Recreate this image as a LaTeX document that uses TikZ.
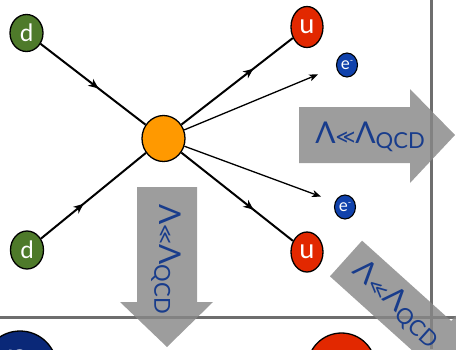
\documentclass[tikz,border=0pt]{standalone}
\usepackage{fontspec}
\setmainfont{Lato}
\newfontfamily\symfnt{DejaVu Sans}
\usetikzlibrary{arrows.meta,decorations.markings,shapes.geometric}

\definecolor{dgreen}{RGB}{78,122,42}
\definecolor{ured}{RGB}{226,40,0}
\definecolor{eblue}{RGB}{16,66,172}
\definecolor{vorange}{RGB}{255,153,0}
\definecolor{nnavy}{RGB}{10,40,120}
\definecolor{lamblue}{RGB}{24,60,140}
\definecolor{sepgray}{RGB}{110,110,110}
\definecolor{arrowgray}{RGB}{135,135,135}

\newcommand{\lamtext}{%
  {\fontsize{30}{30}\selectfont Λ}%
  {\symfnt\fontsize{19}{19}\selectfont ≪}%
  {\fontsize{30}{30}\selectfont Λ}%
  \raisebox{-5pt}{\fontsize{22}{22}\selectfont QCD}}

\begin{document}
\begin{tikzpicture}[x=1pt,y=-1pt,
  particle/.style={ellipse,draw=black,line width=1.3pt,inner sep=0pt,text=white},
  quarkline/.style={line width=2pt,black},
  leptonline/.style={line width=1.3pt,black,-{Stealth[length=9pt,width=7pt,inset=2.5pt]},shorten >=1pt},
  midarrow/.style={postaction={decorate},decoration={markings,
      mark=at position #1 with {\arrow{Stealth[length=10pt,width=8.5pt,inset=3pt]}}}},
  separator/.style={line width=3pt,sepgray},
  bigarrow/.style={fill=arrowgray,fill opacity=0.82,draw=none},
  lamlabel/.style={text=lamblue,inner sep=0pt,anchor=center}]
\useasboundingbox (0,0) rectangle (456,349);
\clip (0,0) rectangle (456,349);

% panel frame lines
\draw[separator] (0,317) -- (456,317);
\draw[separator] (431,0) -- (431,349);

% vertex and external particles
\node[ellipse,draw=black,line width=1.3pt,fill=vorange,minimum width=43,minimum height=46,inner sep=0pt] (o) at (163.5,138.5) {};
\node[particle,fill=dgreen,minimum width=33,minimum height=37] (d1) at (26.5,33) {\fontsize{24}{24}\selectfont d};
\node[particle,fill=dgreen,minimum width=33,minimum height=38] (d2) at (27,250) {\fontsize{24}{24}\selectfont d};
\node[particle,fill=ured,minimum width=32,minimum height=41] (u1) at (307,27) {\fontsize{27}{27}\selectfont u};
\node[particle,fill=ured,minimum width=32,minimum height=40] (u2) at (307,252) {\fontsize{27}{27}\selectfont u};
\node[particle,fill=eblue,minimum width=21,minimum height=24,line width=1.1pt] (e1) at (347,65) {\fontsize{17}{17}\selectfont e\raisebox{6pt}{\fontsize{9}{9}\selectfont -}};
\node[particle,fill=eblue,minimum width=21,minimum height=24,line width=1.1pt] (e2) at (345,207) {\fontsize{17}{17}\selectfont e\raisebox{6pt}{\fontsize{9}{9}\selectfont -}};
\coordinate (et1) at (319,74);
\coordinate (et2) at (322,197);

% propagators
\draw[quarkline,midarrow=73pt] (d1) -- (o);
\draw[quarkline,midarrow=55pt] (d2) -- (o);
\draw[quarkline,midarrow=91pt] (o) -- (u1);
\draw[quarkline,midarrow=92pt] (o) -- (u2);
\draw[leptonline] (o) -- (et1);
\draw[leptonline] (o) -- (et2);

% nucleons of the lower panel
\node[circle,draw=black,line width=1.3pt,fill=nnavy,minimum size=74,inner sep=0pt] (n) at (20,368) {};
\node[circle,draw=black,line width=1.3pt,fill=ured,minimum size=68,inner sep=0pt] (p) at (341.5,367) {};
\node[text=white,anchor=base] (nl) at (18,371) {\fontsize{42}{42}\selectfont n};
\node[text=white,anchor=base] (pl) at (343,372) {\fontsize{42}{42}\selectfont p};

% scale arrows
\fill[bigarrow] (299,107) -- (410,107) -- (410,89) -- (455,135) -- (410,183) -- (410,163) -- (299,163) -- cycle;
\node[lamlabel] (lh) at (370,137) {\lamtext};

\fill[bigarrow] (137,187) -- (197,187) -- (197,302) -- (213,302) -- (167,347) -- (120,302) -- (137,302) -- cycle;
\node[lamlabel,rotate=-90] (lv) at (166,259) {\lamtext};

\begin{scope}[shift={(346,258.5)},rotate=-42]
  \fill[bigarrow] (0,-24) -- (120,-24) -- (120,-40) -- (165,0) -- (120,40) -- (120,24) -- (0,24) -- cycle;
\end{scope}
\node[lamlabel,rotate=-42] (ld) at (397,304.5) {\lamtext};
\end{tikzpicture}
\end{document}
